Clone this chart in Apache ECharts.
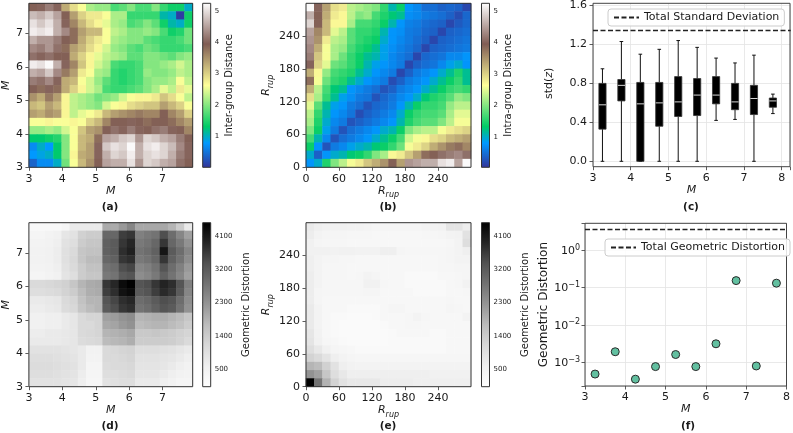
<!DOCTYPE html>
<html>
<head>
<meta charset="utf-8">
<script src="https://cdn.jsdelivr.net/npm/echarts@6/dist/echarts.min.js"></script>
<style>
  html, body { margin: 0; padding: 0; background: #fff; }
  #chart { width: 793px; height: 433px; }
</style>
</head>
<body>
<div id="chart"></div>
<script>
// bin centres used by the heatmaps
const mBins = ['3.12', '3.37', '3.61', '3.86', '4.10', '4.35', '4.59', '4.84', '5.08', '5.33',
  '5.57', '5.82', '6.06', '6.31', '6.55', '6.80', '7.04', '7.29', '7.53', '7.78'];
const rBins = ['7.5', '22.5', '37.5', '52.5', '67.5', '82.5', '97.5', '112.5', '127.5', '142.5',
  '157.5', '172.5', '187.5', '202.5', '217.5', '232.5', '247.5', '262.5', '277.5', '292.5'];

const mTicks = [3, 4, 5, 6, 7];
const rTicks = [0, 60, 120, 180, 240];
const distTicks = [1, 2, 3, 4, 5];
const geoTicks = [500, 1400, 2300, 3200, 4100];

// (a) inter-group distance, rows from top (M high) to bottom
const interGroup = [
  [3.9, 4.0, 4.2, 4.0, 3.3, 2.9, 2.6, 2.2, 2.1, 2.1, 1.7, 1.8, 2.0, 1.7, 1.7, 2.0, 1.6, 1.4, 1.4, 1.0],
  [4.7, 4.6, 4.8, 4.5, 3.9, 3.4, 3.0, 2.8, 2.8, 2.6, 2.2, 2.2, 1.6, 1.6, 1.6, 1.6, 1.1, 1.0, 0.1, 1.4],
  [5.0, 4.8, 5.0, 4.6, 4.0, 3.6, 3.2, 2.9, 2.7, 2.5, 2.2, 2.1, 1.7, 1.8, 2.0, 1.8, 1.4, 1.1, 1.0, 1.4],
  [5.1, 5.0, 5.1, 4.6, 4.3, 3.8, 3.4, 3.2, 3.2, 2.6, 2.3, 2.2, 2.0, 2.0, 2.1, 2.0, 1.7, 1.4, 1.5, 1.9],
  [4.6, 4.4, 4.4, 4.2, 3.9, 3.8, 3.3, 3.0, 2.8, 2.6, 2.2, 2.1, 2.0, 2.0, 1.8, 1.7, 1.6, 1.6, 1.7, 1.9],
  [4.3, 4.2, 4.4, 4.1, 3.8, 3.4, 3.2, 2.9, 2.7, 2.4, 2.1, 2.0, 1.8, 1.7, 1.9, 1.8, 1.6, 1.6, 1.6, 1.7],
  [4.1, 4.0, 4.1, 3.9, 3.9, 3.3, 3.0, 2.7, 2.5, 2.3, 2.2, 2.1, 1.8, 1.8, 2.0, 2.0, 1.9, 1.8, 2.0, 2.1],
  [5.1, 5.0, 5.2, 4.6, 4.0, 3.6, 3.1, 2.7, 2.4, 2.2, 1.7, 1.6, 1.6, 1.7, 2.0, 2.0, 2.1, 2.2, 2.4, 2.2],
  [4.6, 4.5, 4.8, 4.3, 3.7, 3.4, 2.8, 2.6, 2.2, 2.1, 1.6, 1.5, 1.6, 1.7, 2.1, 2.0, 2.0, 2.1, 2.3, 2.2],
  [4.2, 4.1, 4.3, 4.0, 3.3, 3.2, 2.6, 2.4, 2.1, 1.8, 1.6, 1.5, 1.6, 1.7, 2.0, 2.1, 2.1, 2.2, 2.6, 2.3],
  [3.9, 3.8, 4.0, 3.8, 3.3, 3.0, 2.7, 2.4, 2.2, 1.7, 1.6, 1.6, 1.7, 1.8, 2.0, 2.2, 2.5, 2.3, 2.8, 2.5],
  [3.5, 3.3, 3.7, 3.4, 2.7, 2.3, 2.2, 2.1, 1.9, 2.0, 2.1, 2.4, 2.6, 2.7, 2.7, 2.8, 3.1, 2.9, 2.6, 2.3],
  [3.2, 3.1, 3.4, 3.2, 2.7, 2.3, 2.2, 2.1, 2.0, 2.4, 2.6, 2.7, 2.9, 3.0, 3.1, 3.1, 3.4, 3.2, 3.0, 2.6],
  [3.4, 3.3, 3.5, 3.4, 2.7, 2.3, 2.5, 2.6, 2.8, 3.2, 3.4, 3.5, 3.6, 3.7, 3.6, 3.6, 3.9, 3.6, 3.4, 3.0],
  [2.6, 2.6, 2.7, 2.6, 2.6, 2.7, 2.6, 3.0, 3.2, 3.6, 3.9, 3.9, 4.0, 3.9, 3.8, 3.9, 3.9, 3.8, 3.6, 3.4],
  [2.1, 2.1, 2.2, 2.1, 2.4, 2.6, 3.1, 3.4, 3.5, 3.9, 4.1, 4.0, 4.2, 4.0, 3.9, 4.1, 4.2, 4.0, 3.9, 3.6],
  [1.3, 1.3, 1.4, 1.5, 2.0, 2.6, 3.2, 3.3, 3.8, 4.5, 4.6, 4.8, 4.9, 4.4, 4.9, 4.8, 4.6, 4.5, 4.2, 3.9],
  [0.7, 1.0, 0.8, 1.3, 2.0, 2.6, 3.2, 3.4, 4.0, 4.8, 5.0, 4.9, 5.2, 4.6, 5.0, 5.1, 4.9, 4.7, 4.3, 4.0],
  [0.8, 0.9, 1.0, 1.3, 2.0, 2.7, 3.3, 3.4, 4.0, 4.6, 4.9, 4.8, 5.1, 4.6, 4.9, 5.0, 4.9, 4.6, 4.2, 4.0],
  [0.4, 0.7, 0.7, 1.0, 1.9, 2.6, 3.2, 3.5, 3.9, 4.5, 4.6, 4.6, 5.0, 4.4, 4.9, 4.8, 4.6, 4.5, 4.1, 3.9]
];

// (b) intra-group distance, rows from top (R high) to bottom
const intraGroup = [
  [5.2, 4.0, 3.4, 2.9, 2.8, 2.3, 2.2, 2.1, 2.0, 1.6, 1.1, 1.4, 0.8, 0.7, 0.5, 0.5, 0.4, 0.45, 0.4, 0.2],
  [4.6, 3.9, 3.3, 2.8, 2.7, 2.3, 2.0, 2.1, 1.7, 1.5, 1.3, 1.2, 0.75, 0.7, 0.6, 0.55, 0.5, 0.4, 0.25, 0.45],
  [4.9, 3.9, 3.2, 2.7, 2.7, 2.2, 1.7, 1.7, 1.6, 1.4, 1.1, 0.8, 0.65, 0.6, 0.5, 0.45, 0.4, 0.2, 0.35, 0.45],
  [4.5, 3.6, 3.2, 2.5, 2.3, 1.8, 1.6, 1.6, 1.5, 1.1, 0.8, 0.75, 0.6, 0.55, 0.45, 0.4, 0.2, 0.4, 0.45, 0.5],
  [4.4, 3.5, 2.8, 2.3, 2.2, 1.8, 1.6, 1.5, 1.4, 1.0, 0.8, 0.7, 0.6, 0.5, 0.4, 0.2, 0.4, 0.45, 0.5, 0.55],
  [4.3, 3.3, 2.6, 2.2, 2.1, 1.7, 1.5, 1.4, 1.2, 0.9, 0.75, 0.65, 0.55, 0.45, 0.2, 0.4, 0.45, 0.5, 0.55, 0.6],
  [4.2, 3.1, 2.6, 2.2, 1.9, 1.6, 1.4, 1.2, 1.1, 0.9, 0.7, 0.6, 0.5, 0.2, 0.45, 0.5, 0.55, 0.7, 0.7, 0.8],
  [4.0, 3.0, 2.5, 1.9, 1.8, 1.6, 1.4, 1.1, 0.9, 0.8, 0.7, 0.6, 0.2, 0.4, 0.5, 0.55, 0.7, 0.9, 1.0, 0.8],
  [3.3, 2.7, 2.1, 1.7, 1.6, 1.5, 1.2, 1.0, 0.8, 0.7, 0.6, 0.2, 0.4, 0.6, 0.7, 0.8, 1.0, 1.2, 1.5, 1.2],
  [3.8, 2.6, 1.9, 1.6, 1.5, 1.2, 1.0, 0.8, 0.7, 0.6, 0.25, 0.4, 0.6, 0.7, 0.8, 1.0, 1.2, 1.4, 1.6, 1.2],
  [3.3, 2.3, 1.7, 1.3, 1.2, 0.8, 0.7, 0.6, 0.5, 0.3, 0.4, 0.6, 0.7, 0.8, 1.0, 1.2, 1.4, 1.6, 1.7, 1.6],
  [2.9, 2.2, 1.6, 1.2, 0.9, 0.75, 0.6, 0.55, 0.3, 0.45, 0.55, 0.7, 0.8, 1.0, 1.3, 1.5, 1.6, 1.8, 2.1, 2.0],
  [2.5, 1.8, 1.2, 0.9, 0.8, 0.6, 0.5, 0.3, 0.45, 0.5, 0.6, 0.8, 1.1, 1.4, 1.6, 1.6, 1.7, 2.1, 2.3, 2.3],
  [2.3, 1.6, 1.1, 0.8, 0.7, 0.55, 0.25, 0.4, 0.5, 0.6, 0.7, 1.0, 1.4, 1.6, 1.7, 1.7, 1.8, 2.2, 2.5, 2.5],
  [2.2, 1.5, 1.0, 0.7, 0.6, 0.3, 0.4, 0.5, 0.6, 0.7, 0.8, 1.1, 1.5, 1.7, 1.8, 1.8, 2.0, 2.3, 2.6, 2.6],
  [2.0, 1.4, 0.9, 0.6, 0.3, 0.5, 0.6, 0.7, 0.8, 1.0, 1.1, 1.4, 2.0, 2.2, 2.3, 2.3, 2.6, 2.8, 2.9, 3.0],
  [1.7, 1.1, 0.7, 0.3, 0.5, 0.6, 0.7, 0.8, 1.0, 1.2, 1.4, 1.7, 2.4, 2.6, 2.7, 2.9, 3.0, 3.2, 3.3, 3.4],
  [1.4, 0.8, 0.3, 0.6, 0.7, 0.9, 1.0, 1.1, 1.3, 1.4, 1.6, 1.9, 2.6, 2.8, 3.0, 3.3, 3.5, 3.7, 3.8, 3.6],
  [1.0, 0.4, 0.8, 1.0, 1.1, 1.3, 1.4, 1.6, 2.0, 2.2, 2.7, 2.8, 3.1, 3.4, 3.8, 3.9, 4.1, 4.2, 4.3, 4.1],
  [0.8, 1.0, 1.5, 2.0, 2.3, 2.6, 2.8, 3.1, 3.3, 3.5, 3.9, 3.4, 4.4, 4.5, 4.6, 4.6, 5.0, 5.1, 4.5, 5.2]
];

// (d) geometric distortion over M x M, rows from top to bottom
const geoDistM = [
  [260, 260, 260, 260, 350, 700, 700, 700, 700, 1950, 1950, 2200, 2500, 2000, 2000, 2000, 2000, 1800, 1400, 700],
  [400, 400, 450, 550, 800, 900, 1300, 1400, 1400, 3000, 3000, 3600, 3700, 2600, 2700, 2800, 3400, 2900, 2500, 2100],
  [450, 450, 500, 600, 900, 1000, 1400, 1500, 1500, 3100, 3200, 3700, 3900, 2700, 2800, 3000, 3700, 3000, 2700, 2300],
  [500, 500, 550, 650, 950, 1100, 1500, 1600, 1600, 3100, 3200, 3800, 4000, 2800, 2900, 3100, 4150, 3200, 2900, 2500],
  [500, 500, 550, 650, 950, 1150, 1500, 1700, 1700, 3000, 3100, 3700, 3800, 2700, 2800, 3000, 3700, 3100, 2800, 2400],
  [450, 450, 500, 600, 900, 1100, 1400, 1600, 1600, 2800, 2900, 3400, 3500, 2500, 2600, 2800, 3300, 2900, 2600, 2200],
  [400, 400, 450, 550, 850, 1000, 1400, 1500, 1500, 2700, 2800, 3200, 3300, 2400, 2500, 2700, 3100, 2800, 2500, 2100],
  [1100, 1100, 1150, 1200, 1300, 1500, 1800, 1950, 2000, 3700, 3900, 4300, 4450, 3300, 3400, 3700, 3950, 3800, 3300, 2600],
  [1000, 1000, 1050, 1100, 1250, 1400, 1700, 1900, 1950, 3600, 3800, 4200, 4300, 3200, 3300, 3600, 3850, 3700, 3200, 2500],
  [700, 700, 750, 800, 1100, 1200, 1600, 1800, 1800, 3300, 3500, 3800, 3900, 2900, 3000, 3200, 3400, 3300, 2900, 2400],
  [650, 650, 700, 750, 1050, 1150, 1500, 1700, 1800, 3200, 3400, 3700, 3800, 2800, 2900, 3100, 3300, 3200, 2800, 2300],
  [550, 550, 600, 600, 700, 800, 1100, 1200, 1200, 2100, 2150, 2300, 2400, 1800, 1850, 1900, 1900, 1800, 1700, 1500],
  [550, 550, 600, 600, 700, 800, 1100, 1100, 1200, 2000, 2050, 2200, 2300, 1700, 1750, 1800, 1800, 1700, 1600, 1400],
  [650, 650, 700, 700, 750, 800, 1100, 1150, 1200, 1800, 1850, 1900, 2000, 1450, 1450, 1500, 1450, 1400, 1300, 1200],
  [700, 700, 700, 700, 750, 800, 1050, 1100, 1150, 1700, 1750, 1800, 1900, 1400, 1400, 1400, 1400, 1350, 1250, 1100],
  [900, 900, 900, 900, 850, 800, 700, 500, 500, 1100, 1150, 1200, 1250, 1000, 1000, 1000, 950, 900, 800, 700],
  [1000, 1000, 1000, 950, 900, 850, 700, 450, 450, 1100, 1100, 1150, 1200, 900, 900, 900, 850, 800, 700, 600],
  [1050, 1050, 1050, 1000, 950, 900, 700, 400, 400, 1050, 1100, 1100, 1150, 850, 850, 850, 800, 700, 600, 500],
  [1000, 1000, 1000, 950, 900, 850, 650, 400, 400, 1000, 1000, 1050, 1100, 800, 800, 800, 700, 600, 500, 450],
  [900, 900, 900, 900, 850, 800, 600, 350, 350, 900, 950, 1000, 1000, 700, 700, 700, 600, 500, 400, 400]
];

// (e) geometric distortion over R_rup x R_rup, rows from top to bottom
const geoDistR = [
  [700, 600, 550, 550, 550, 500, 500, 450, 400, 400, 400, 400, 400, 400, 450, 500, 550, 850, 850, 650],
  [650, 450, 400, 400, 400, 350, 350, 350, 300, 300, 300, 300, 300, 300, 350, 350, 400, 450, 500, 900],
  [550, 400, 350, 350, 350, 300, 300, 300, 300, 300, 300, 300, 300, 300, 300, 300, 300, 350, 450, 1000],
  [550, 550, 550, 500, 550, 550, 500, 500, 500, 600, 600, 400, 350, 350, 350, 350, 350, 400, 450, 600],
  [600, 450, 400, 400, 350, 350, 300, 300, 300, 300, 300, 300, 300, 300, 300, 300, 350, 400, 450, 450],
  [600, 450, 350, 350, 350, 300, 300, 300, 300, 300, 300, 300, 300, 300, 300, 300, 350, 350, 400, 400],
  [650, 450, 350, 350, 350, 300, 350, 450, 400, 300, 300, 300, 250, 250, 250, 250, 300, 300, 350, 400],
  [650, 450, 350, 350, 350, 350, 350, 550, 550, 350, 300, 300, 250, 250, 250, 250, 250, 300, 350, 500],
  [650, 400, 350, 350, 350, 350, 350, 400, 400, 300, 300, 300, 300, 250, 250, 250, 250, 300, 300, 350],
  [650, 400, 300, 300, 300, 300, 300, 300, 300, 300, 300, 300, 300, 300, 300, 300, 300, 350, 300, 300],
  [700, 450, 300, 300, 300, 250, 250, 250, 250, 300, 400, 400, 300, 300, 300, 300, 300, 400, 350, 300],
  [700, 450, 300, 250, 250, 200, 200, 200, 250, 300, 300, 300, 350, 450, 350, 300, 300, 300, 300, 450],
  [700, 450, 300, 250, 200, 200, 200, 200, 200, 250, 300, 300, 350, 350, 300, 300, 300, 300, 300, 300],
  [800, 500, 300, 250, 200, 200, 200, 200, 200, 200, 250, 300, 300, 300, 300, 250, 250, 300, 300, 300],
  [850, 550, 350, 300, 250, 200, 200, 200, 200, 200, 250, 250, 250, 250, 250, 250, 250, 300, 300, 300],
  [1000, 750, 550, 400, 350, 300, 250, 250, 250, 250, 250, 250, 250, 250, 250, 250, 250, 300, 300, 300],
  [1250, 1100, 850, 600, 450, 400, 350, 350, 350, 350, 350, 350, 350, 350, 350, 350, 350, 350, 350, 350],
  [1800, 1700, 1300, 900, 600, 500, 450, 450, 450, 450, 450, 450, 450, 450, 450, 450, 450, 450, 450, 450],
  [2300, 2100, 1500, 1000, 750, 600, 600, 600, 600, 600, 600, 600, 600, 600, 600, 550, 550, 550, 550, 550],
  [4450, 2800, 1850, 1250, 900, 750, 750, 750, 750, 650, 650, 650, 650, 600, 600, 600, 600, 600, 600, 600]
];

// (c) std(z) per magnitude bin
const boxM = [3.25, 3.75, 4.25, 4.75, 5.25, 5.75, 6.25, 6.75, 7.25, 7.75];
const stdLow = [0.0, 0.0, 0.0, 0.0, 0.0, 0.0, 0.42, 0.43, 0.0, 0.49];
const stdQ1 = [0.33, 0.62, 0.0, 0.36, 0.46, 0.47, 0.59, 0.53, 0.48, 0.555];
const stdMed = [0.58, 0.78, 0.59, 0.60, 0.61, 0.68, 0.68, 0.61, 0.645, 0.62];
const stdQ3 = [0.80, 0.84, 0.81, 0.81, 0.87, 0.85, 0.87, 0.80, 0.78, 0.65];
const stdHigh = [0.95, 1.23, 1.10, 1.15, 1.24, 1.17, 1.06, 1.01, 1.09, 0.69];
const totalStd = 1.35;

// (f) geometric distortion per magnitude bin
const geoPerM = [4.8e-4, 1.9e-3, 3.5e-4, 7.6e-4, 1.6e-3, 7.6e-4, 3.1e-3, 0.152, 7.9e-4, 0.13];
const totalGeo = 3.5;

// ---- styling ----
const FONT = 'DejaVu Sans';
const INK = '#1a1a1a';
const SPINE = '#333';
const terrainStops = [[0, [51, 51, 153]], [0.15, [0, 153, 255]], [0.25, [0, 204, 102]],
  [0.5, [255, 255, 153]], [0.75, [128, 92, 84]], [1, [255, 255, 255]]];
const greysStops = ['#ffffff', '#f0f0f0', '#d9d9d9', '#bdbdbd', '#969696', '#737373', '#525252', '#252525', '#000000']
  .map((h, i) => [i / 8, [parseInt(h.slice(1, 3), 16), parseInt(h.slice(3, 5), 16), parseInt(h.slice(5, 7), 16)]]);

function rgb(c) { return 'rgb(' + c.map(Math.round).join(',') + ')'; }
function sampleMap(stops, t) {
  for (let i = 1; i < stops.length; i++) {
    if (t <= stops[i][0]) {
      const t0 = stops[i - 1][0], c0 = stops[i - 1][1], t1 = stops[i][0], c1 = stops[i][1];
      const f = (t - t0) / (t1 - t0);
      return rgb(c0.map((v, k) => v + (c1[k] - v) * f));
    }
  }
  return rgb(stops[stops.length - 1][1]);
}
function mapColors(stops) {
  const out = [];
  for (let i = 0; i <= 60; i++) out.push(sampleMap(stops, i / 60));
  return out;
}
function barGradient(stops) {
  return new echarts.graphic.LinearGradient(0, 0, 0, 1,
    stops.slice().reverse().map(s => ({ offset: 1 - s[0], color: rgb(s[1]) })));
}
function cells(rows) {
  const out = [];
  rows.forEach((row, r) => row.forEach((v, c) => out.push([c, rows.length - 1 - r, v])));
  return out;
}

const tickStyle = { show: true, inside: false, length: 3.5, lineStyle: { color: SPINE, width: 0.8 } };
const labelStyle = { color: INK, fontFamily: FONT, fontSize: 11 };
const italicM = { color: INK, fontFamily: FONT, fontSize: 11, fontStyle: 'italic' };
const rupName = '{r|R}{s|rup}';
const rupStyle = {
  color: INK, fontFamily: FONT,
  rich: {
    r: { fontSize: 11, fontStyle: 'italic', fontFamily: FONT, color: INK, lineHeight: 13, verticalAlign: 'top' },
    s: { fontSize: 8, fontStyle: 'italic', fontFamily: FONT, color: INK, lineHeight: 9, padding: [6, 0, 0, 0], verticalAlign: 'top' }
  }
};

const grid = [], xAxis = [], yAxis = [], series = [], visualMap = [];
function addGrid(g) { grid.push(g); return grid.length - 1; }
function addX(a) { xAxis.push(a); return xAxis.length - 1; }
function addY(a) { yAxis.push(a); return yAxis.length - 1; }

function heatPanel(p) {
  const gi = addGrid({ left: p.box[0], top: p.box[1], width: p.box[2], height: p.box[3], show: true,
    borderColor: SPINE, borderWidth: 1, backgroundColor: 'transparent', z: 5 });
  const hx = addX({ type: 'category', gridIndex: gi, data: p.cats, show: false, position: 'top' });
  const hy = addY({ type: 'category', gridIndex: gi, data: p.cats, show: false, position: 'right' });
  addX({ type: 'value', gridIndex: gi, position: 'bottom', min: p.range[0], max: p.range[1],
    axisLine: { show: false }, splitLine: { show: false },
    axisTick: Object.assign({ customValues: p.ticks }, tickStyle),
    axisLabel: Object.assign({ customValues: p.ticks, margin: 6 }, labelStyle),
    name: p.name, nameLocation: 'middle', nameGap: p.nameGapX, nameTextStyle: p.nameStyle });
  addY({ type: 'value', gridIndex: gi, position: 'left', min: p.range[0], max: p.range[1],
    axisLine: { show: false }, splitLine: { show: false },
    axisTick: Object.assign({ customValues: p.ticks }, tickStyle),
    axisLabel: Object.assign({ customValues: p.ticks, margin: 6 }, labelStyle),
    name: p.name, nameLocation: 'middle', nameRotate: 90, nameGap: p.nameGapY, nameTextStyle: p.nameStyle });
  const si = series.length;
  series.push({ type: 'heatmap', xAxisIndex: hx, yAxisIndex: hy, data: cells(p.values), itemStyle: { borderWidth: 0 } });
  visualMap.push({ type: 'continuous', show: false, seriesIndex: si, min: p.vrange[0], max: p.vrange[1],
    inRange: { color: mapColors(p.stops) } });
  // colour bar
  const cg = addGrid({ left: p.cbLeft, top: p.box[1], width: 8, height: p.box[3], show: true,
    borderColor: SPINE, borderWidth: 1, backgroundColor: barGradient(p.stops), z: 5 });
  addX({ type: 'value', gridIndex: cg, show: false, min: 0, max: 1 });
  addY({ type: 'value', gridIndex: cg, position: 'right', min: p.vrange[0], max: p.vrange[1],
    axisLine: { show: false }, splitLine: { show: false },
    axisTick: { show: true, customValues: p.cbTicks, length: 2.5, lineStyle: { color: SPINE, width: 0.8 } },
    axisLabel: { customValues: p.cbTicks, margin: 4, color: INK, fontFamily: FONT, fontSize: 7, formatter: v => String(v) },
    name: p.cbName, nameLocation: 'middle', nameRotate: 90, nameGap: p.cbGap,
    nameTextStyle: { color: INK, fontFamily: FONT, fontSize: 10 } });
}

heatPanel({ box: [28.3, 3.3, 164.4, 164], cats: mBins, range: [3, 7.9], ticks: mTicks,
  name: 'M', nameStyle: italicM, nameGapX: 18, nameGapY: 15,
  values: interGroup, vrange: [0.02, 5.24], stops: terrainStops,
  cbLeft: 202.7, cbTicks: distTicks, cbName: 'Inter-group Distance', cbGap: 14 });
heatPanel({ box: [306, 3.3, 165, 164], cats: rBins, range: [0, 300], ticks: rTicks,
  name: rupName, nameStyle: rupStyle, nameGapX: 16, nameGapY: 26,
  values: intraGroup, vrange: [0.05, 5.24], stops: terrainStops,
  cbLeft: 481.5, cbTicks: distTicks, cbName: 'Intra-group Distance', cbGap: 14 });
heatPanel({ box: [28.3, 222.7, 164.4, 164], cats: mBins, range: [3, 7.9], ticks: mTicks,
  name: 'M', nameStyle: italicM, nameGapX: 18, nameGapY: 15,
  values: geoDistM, vrange: [20, 4470], stops: greysStops,
  cbLeft: 202.7, cbTicks: geoTicks, cbName: 'Geometric Distortion', cbGap: 31 });
heatPanel({ box: [306, 222.7, 165, 164], cats: rBins, range: [0, 300], ticks: rTicks,
  name: rupName, nameStyle: rupStyle, nameGapX: 16, nameGapY: 26,
  values: geoDistR, vrange: [20, 4470], stops: greysStops,
  cbLeft: 481.5, cbTicks: geoTicks, cbName: 'Geometric Distortion', cbGap: 31 });

// ---- (c) box plot ----
const gridLine = { show: true, lineStyle: { color: '#e3e3e3', width: 0.8 } };
const intLabel = v => (Math.abs(v - Math.round(v)) < 1e-6 ? String(Math.round(v)) : '');
const cFrame = addGrid({ left: 593, top: 3.3, width: 197.7, height: 163.4, show: true,
  borderColor: '#444', borderWidth: 1, backgroundColor: 'transparent', z: 5 });
addX({ type: 'value', gridIndex: cFrame, position: 'bottom', min: 3, max: 8.22, interval: 1,
  axisLine: { show: false }, axisTick: tickStyle, splitLine: gridLine,
  axisLabel: Object.assign({ margin: 6, formatter: intLabel }, labelStyle),
  name: 'M', nameLocation: 'middle', nameGap: 18, nameTextStyle: italicM });
addY({ type: 'value', gridIndex: cFrame, show: false, min: 0, max: 1 });
const cData = addGrid({ left: 593, top: 3.3, width: 197.7, height: 158, show: false });
const cx = addX({ type: 'value', gridIndex: cData, show: false, min: 3, max: 8.22 });
const cy = addY({ type: 'value', gridIndex: cData, position: 'left', min: 0, max: 1.6, interval: 0.4,
  axisLine: { show: false }, axisTick: tickStyle, splitLine: gridLine,
  axisLabel: Object.assign({ margin: 6, formatter: v => v.toFixed(1) }, labelStyle),
  name: '{a|std(}{i|z}{a|)}', nameLocation: 'middle', nameRotate: 90, nameGap: 38,
  nameTextStyle: { rich: { a: { fontSize: 11, fontFamily: FONT, color: INK },
    i: { fontSize: 11, fontFamily: FONT, color: INK, fontStyle: 'italic' } } } });

series.push({
  type: 'custom', xAxisIndex: cx, yAxisIndex: cy,
  data: boxM.map((m, i) => [m, stdLow[i], stdQ1[i], stdMed[i], stdQ3[i], stdHigh[i]]),
  encode: { x: 0, y: [1, 2, 3, 4, 5] },
  clip: false,
  renderItem: function (params, api) {
    const x = api.value(0);
    const lo = api.coord([x, api.value(1)]);
    const q1 = api.coord([x, api.value(2)]);
    const md = api.coord([x, api.value(3)]);
    const q3 = api.coord([x, api.value(4)]);
    const hi = api.coord([x, api.value(5)]);
    const bw = api.size([0.19, 0])[0];
    const c = lo[0];
    const seg = (x1, y1, x2, y2, col) => ({ type: 'line', shape: { x1, y1, x2, y2 }, style: { stroke: col, lineWidth: 1 } });
    return { type: 'group', children: [
      seg(c, hi[1], c, q3[1], '#111'),
      seg(c, q1[1], c, lo[1], '#111'),
      seg(c - bw / 4, hi[1], c + bw / 4, hi[1], '#111'),
      seg(c - bw / 4, lo[1], c + bw / 4, lo[1], '#111'),
      { type: 'rect', shape: { x: c - bw / 2, y: q3[1], width: bw, height: Math.max(q1[1] - q3[1], 0.5) },
        style: { fill: '#000', stroke: '#333', lineWidth: 0.8 } },
      seg(c - bw / 2, md[1], c + bw / 2, md[1], '#d8d8d8')
    ] };
  }
});
const dashed = { color: '#222', type: [5, 2.5], width: 1.3 };
series.push({ type: 'line', name: 'Total Standard Deviation', xAxisIndex: cx, yAxisIndex: cy, data: [],
  symbol: 'none', lineStyle: dashed, itemStyle: { color: '#222' },
  markLine: { silent: true, symbol: 'none', label: { show: false }, lineStyle: dashed, data: [{ yAxis: totalStd }] } });

// ---- (f) per-magnitude geometric distortion ----
const logLabel = v => {
  const e = Math.log10(v), r = Math.round(e);
  if (Math.abs(e - r) > 1e-6) return '';
  return '{b|10}{e|' + (r < 0 ? '\u2212' + (-r) : String(r)) + '}';
};
const fGrid = addGrid({ left: 585, top: 223.3, width: 205.7, height: 162.7, show: true,
  borderColor: '#444', borderWidth: 1, backgroundColor: 'transparent', z: 5 });
const fx = addX({ type: 'value', gridIndex: fGrid, position: 'bottom', min: 3, max: 8, interval: 1,
  axisLine: { show: false }, axisTick: tickStyle, splitLine: gridLine,
  axisLabel: Object.assign({ margin: 6 }, labelStyle),
  name: 'M', nameLocation: 'middle', nameGap: 18, nameTextStyle: italicM });
const fy = addY({ type: 'log', logBase: 10, gridIndex: fGrid, position: 'left', min: 2.3e-4, max: 5.2,
  axisLine: { show: false }, axisTick: tickStyle, splitLine: gridLine,
  axisLabel: {
    margin: 5, formatter: logLabel,
    rich: {
      b: { fontSize: 11, fontFamily: FONT, color: INK, lineHeight: 13, padding: [4, 0, 0, 0], verticalAlign: 'bottom' },
      e: { fontSize: 8, fontFamily: FONT, color: INK, lineHeight: 9, verticalAlign: 'top' }
    }
  },
  name: 'Geometric Distortion', nameLocation: 'middle', nameRotate: 90, nameGap: 34,
  nameTextStyle: { color: INK, fontFamily: FONT, fontSize: 12 } });
series.push({ type: 'scatter', xAxisIndex: fx, yAxisIndex: fy, clip: false,
  data: boxM.map((m, i) => [m, geoPerM[i]]), symbolSize: 8,
  itemStyle: { color: '#62c0a0', borderColor: '#2a2a2a', borderWidth: 1, opacity: 1 } });
series.push({ type: 'line', name: 'Total Geometric Distortion', xAxisIndex: fx, yAxisIndex: fy, data: [],
  symbol: 'none', lineStyle: dashed, itemStyle: { color: '#222' },
  markLine: { silent: true, symbol: 'none', label: { show: false }, lineStyle: dashed, data: [{ yAxis: totalGeo }] } });

const legendBase = { orient: 'horizontal', padding: [3, 5], itemWidth: 25, itemHeight: 10, itemGap: 5,
  borderColor: '#cccccc', borderWidth: 1, borderRadius: 3, backgroundColor: 'rgba(255,255,255,0.85)',
  itemStyle: { opacity: 0 },
  textStyle: { fontSize: 11, color: INK, fontFamily: FONT }, z: 10 };

const panelLabels = [['(a)', 110, 207], ['(b)', 388, 207], ['(c)', 691, 207],
  ['(d)', 110, 426], ['(e)', 388, 426], ['(f)', 688, 426]];

const chart = echarts.init(document.getElementById('chart'), null, { renderer: 'canvas' });
chart.setOption({
  animation: false,
  backgroundColor: '#ffffff',
  textStyle: { fontFamily: FONT },
  grid, xAxis, yAxis, series, visualMap,
  legend: [
    Object.assign({ data: ['Total Standard Deviation'], left: 608, top: 9 }, legendBase),
    Object.assign({ data: ['Total Geometric Distortion'], left: 605, top: 239 }, legendBase)
  ],
  graphic: panelLabels.map(([t, x, y]) => ({ type: 'text', x, y, z: 20,
    style: { text: t, textAlign: 'center', textVerticalAlign: 'middle', fill: INK,
      font: 'bold 10.5px "DejaVu Sans"' } }))
});
</script>
</body>
</html>
